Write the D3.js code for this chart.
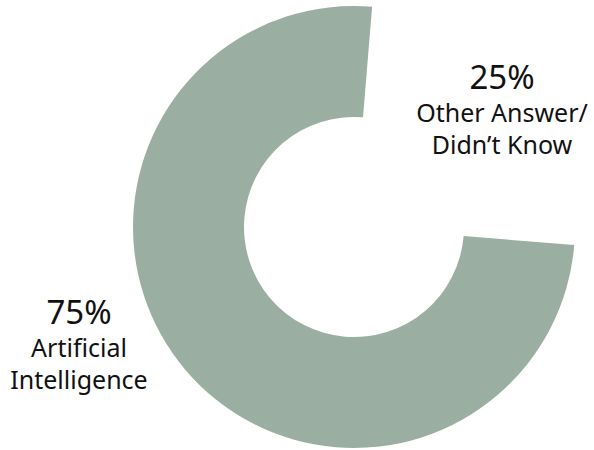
<!DOCTYPE html>
<html>
<head>
<meta charset="utf-8">
<script src="https://cdn.jsdelivr.net/npm/d3@7"></script>
<style>
  html, body { margin: 0; padding: 0; background: #fff; }
  svg { display: block; }
</style>
</head>
<body>
<svg id="chart" width="594" height="450"></svg>
<script>
// Survey answer shares
const categories = ["Artificial Intelligence", "Other Answer/Didn\u2019t Know"];
const values = [75, 25];
const labelLines = [["Artificial", "Intelligence"], ["Other Answer/", "Didn\u2019t Know"]];
const fills = ["#9aafa2", "none"];

const svg = d3.select("#chart");
const cx = 354, cy = 227, outerR = 221, innerR = 110;
const start = 94.7 * Math.PI / 180;

const pie = d3.pie().sort(null).startAngle(start).endAngle(start + 2 * Math.PI);
const arc = d3.arc().innerRadius(innerR).outerRadius(outerR);
const slices = pie(values);

const g = svg.append("g").attr("transform", `translate(${cx},${cy})`);
g.selectAll("path")
  .data(slices)
  .join("path")
  .attr("d", arc)
  .attr("fill", (d, i) => fills[i]);

// Labels sit outside the ring, next to each slice
const labelPos = [{x: 79, y: 324}, {x: 502, y: 89}];
const font = "'Noto Sans', 'Open Sans', sans-serif";
slices.forEach((d, i) => {
  const t = svg.append("text")
    .attr("text-anchor", "middle")
    .attr("fill", "#111")
    .attr("font-family", font);
  t.append("tspan")
    .attr("x", labelPos[i].x).attr("y", labelPos[i].y)
    .attr("font-size", 33)
    .text(d3.format(".0%")(d.data / d3.sum(values)));
  labelLines[i].forEach((line, j) => {
    t.append("tspan")
      .attr("x", labelPos[i].x).attr("y", labelPos[i].y + 33 + j * 32)
      .attr("font-size", 25)
      .text(line);
  });
});
</script>
</body>
</html>
